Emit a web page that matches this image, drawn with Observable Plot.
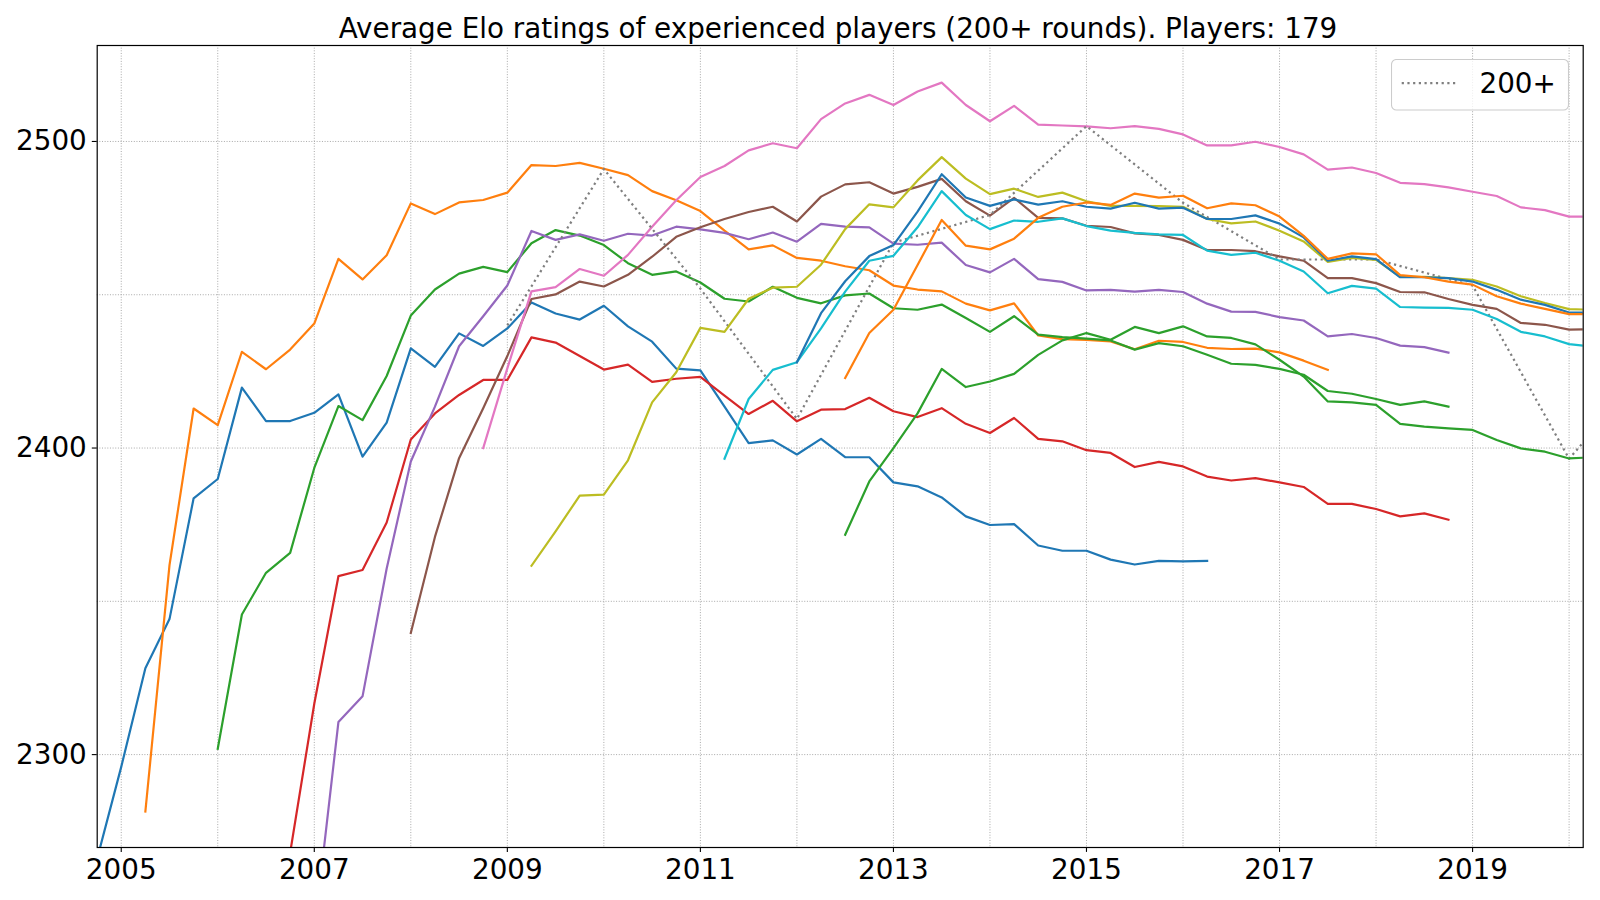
<!DOCTYPE html>
<html>
<head>
<meta charset="utf-8">
<script src="https://cdn.jsdelivr.net/npm/d3@7"></script>
<script src="https://cdn.jsdelivr.net/npm/@observablehq/plot@0.6"></script>
<style>
  body { margin: 0; background: #fff; font-family: "DejaVu Sans", sans-serif; }
  #wrap { position: relative; width: 1600px; height: 900px; overflow: hidden; }
  #chart { position: absolute; left: 0; top: 0; }
  #title { position: absolute; left: 95px; width: 1486px; top: 15px; text-align: center;
           font-size: 27.8px; line-height: 27.8px; white-space: nowrap; color: #000; }
  #legend { position: absolute; left: 1391px; top: 58.5px; }
</style>
</head>
<body>
<div id="wrap">
  <div id="chart"></div>
  <div id="title">Average Elo ratings of experienced players (200+ rounds). Players: 179</div>
  <svg id="legend" width="180" height="53"></svg>
</div>
<script>
// Quarterly average Elo per cohort; each array starts at the quarter given in `cohorts`.
const cohort2005 = [2266, 2296, 2328.2, 2344.2, 2383.6, 2389.9, 2419.7, 2408.8, 2408.8, 2411.5, 2417.5, 2397.2, 2408.3, 2432.5, 2426.5, 2437.4, 2433.3, 2439, 2447.5, 2443.9, 2441.9, 2446.4, 2439.7, 2434.7, 2425.9, 2425.3, 2413.5, 2401.6, 2402.5, 2397.9, 2403, 2397, 2397, 2388.8, 2387.5, 2383.9, 2377.7, 2374.9, 2375.2, 2368.2, 2366.5, 2366.5, 2363.6, 2362, 2363.2, 2363, 2363.2];
const cohort2005b = [2281.4, 2361.8, 2412.9, 2407.5, 2431.4, 2425.7, 2432.1, 2440.6, 2461.7, 2455, 2462.9, 2479.8, 2476.3, 2480.1, 2480.9, 2483.3, 2492.3, 2492, 2493, 2491.1, 2489, 2483.8, 2480.8, 2477.3, 2470.9, 2464.8, 2466.1, 2462, 2461.1, 2459.3, 2458, 2453, 2451.7, 2451.1, 2447.1, 2444.9, 2447.2, 2436.7, 2435.5, 2435.3, 2434.8, 2432.2, 2435, 2434.6, 2432.7, 2432.3, 2432.4, 2431.2, 2428.5, 2425.5];
const cohort2006 = [2301.9, 2345.7, 2359.3, 2365.8, 2393.5, 2413.7, 2409.1, 2423.5, 2443.2, 2451.7, 2456.9, 2459.1, 2457.4, 2466.8, 2471.1, 2469.3, 2466.2, 2460.3, 2456.5, 2457.6, 2454, 2448.7, 2447.8, 2452.6, 2449, 2447.2, 2449.8, 2450.4, 2445.6, 2445.1, 2446.8, 2442.4, 2437.9, 2443, 2437, 2436.2, 2435.7, 2435.1, 2432.1, 2434.2, 2433.2, 2430.4, 2427.5, 2427.1, 2425.8, 2423.9, 2418.6, 2417.7, 2416, 2414.1, 2415.2, 2413.5];
const cohort2006b = [2268, 2316.6, 2358.2, 2360.2, 2375.7, 2402.8, 2411.3, 2417.3, 2422.2, 2422.2, 2436.1, 2434.4, 2430, 2425.6, 2427.2, 2421.6, 2422.6, 2423.2, 2417.1, 2411.1, 2415.4, 2408.7, 2412.5, 2412.7, 2416.4, 2412, 2410.1, 2413, 2407.9, 2404.9, 2409.8, 2403, 2402.2, 2399.3, 2398.4, 2393.8, 2395.5, 2394, 2390.7, 2389.4, 2390.2, 2388.8, 2387.3, 2381.8, 2381.8, 2380.1, 2377.7, 2378.7, 2376.6];
const cohort2007 = [2242, 2310.6, 2319, 2360.7, 2395.6, 2413.5, 2433.2, 2443, 2453, 2470.8, 2467.9, 2469.7, 2467.6, 2469.9, 2469.3, 2472.2, 2471.3, 2470.2, 2468.1, 2470.3, 2467.3, 2473.1, 2472.2, 2472, 2466.7, 2466.3, 2467, 2459.7, 2457.3, 2461.7, 2455.1, 2454.2, 2451.4, 2451.6, 2451, 2451.6, 2450.9, 2447.1, 2444.5, 2444.4, 2442.7, 2441.6, 2436.4, 2437.2, 2435.9, 2433.4, 2432.9, 2431.1];
const cohort2008 = [2339.7, 2371, 2396.7, 2413, 2430, 2448.6, 2450.1, 2454.3, 2452.7, 2456.5, 2462.4, 2468.9, 2472, 2474.7, 2477, 2478.7, 2473.9, 2482, 2486, 2486.7, 2483, 2485.2, 2487.8, 2480.5, 2475.8, 2481.6, 2475.1, 2474.9, 2472.5, 2472.1, 2470, 2469.5, 2467.9, 2464.6, 2464.6, 2464.2, 2462.5, 2461.1, 2455.4, 2455.4, 2453.8, 2450.9, 2450.8, 2448.6, 2446.7, 2445.4, 2440.8, 2440.2, 2438.6, 2438.8];
const cohort2008b = [2400, 2426, 2451.1, 2452.5, 2458.4, 2456.2, 2463, 2472.2, 2480.8, 2488.4, 2492, 2497.1, 2499.4, 2497.8, 2507.3, 2512.4, 2515.2, 2511.9, 2516.3, 2519.2, 2511.9, 2506.6, 2511.6, 2505.5, 2505.2, 2504.9, 2504.3, 2505, 2504.1, 2502.3, 2498.7, 2498.7, 2499.9, 2498.2, 2495.8, 2490.8, 2491.5, 2489.7, 2486.5, 2486.1, 2485, 2483.6, 2482.2, 2478.5, 2477.6, 2475.5, 2475.5];
const cohort2009 = [2361.6, 2372.8, 2384.5, 2384.8, 2396, 2414.9, 2424.7, 2439.2, 2437.9, 2448.7, 2452.3, 2452.6, 2459.8, 2471.4, 2479.5, 2478.5, 2487.3, 2494.9, 2487.9, 2482.8, 2484.6, 2481.9, 2483.3, 2480.5, 2479, 2479, 2478.9, 2478.7, 2474.7, 2473.3, 2473.9, 2470.9, 2467.4, 2460.7, 2462, 2461.4, 2455.8, 2455.8, 2455.4, 2454.9, 2452.7, 2449.5, 2447.3, 2445.3, 2445.1];
const cohort2011 = [2396.5, 2416, 2425.5, 2428, 2439, 2451, 2461.1, 2462.7, 2472, 2483.8, 2476, 2471.4, 2474.2, 2473.8, 2474.9, 2472.4, 2470.9, 2470.2, 2469.7, 2469.5, 2464.4, 2463, 2463.7, 2461.1, 2457.6, 2450.5, 2452.9, 2452, 2446, 2445.8, 2445.7, 2445.1, 2442.1, 2437.9, 2436.4, 2433.9, 2433];
const cohort2012 = [2428, 2444, 2454.4, 2462.6, 2466.2, 2477.1, 2489.3, 2481.7, 2479, 2481.1, 2479.4, 2480.5, 2478.7, 2478.1, 2480, 2478.1, 2478.4, 2474.7, 2474.7, 2475.9, 2473.2, 2468.7, 2461.1, 2462.5, 2461.6, 2455.7, 2455.7, 2455.4, 2454.3, 2451.6, 2448.4, 2446.7, 2444.2, 2444.2];
const cohort2012b = [2422.8, 2437.5, 2445.1, 2459.7, 2474.4, 2466, 2464.8, 2468.3, 2475.1, 2478.7, 2480.1, 2479.3, 2483, 2481.7, 2482.3, 2478.2, 2479.8, 2479.2, 2475.5, 2469.2, 2461.7, 2463.5, 2463.2, 2456.4, 2455.7, 2454.3, 2453.3, 2449.5, 2447.1, 2445.4, 2443.7, 2443.7];
const cohort2012c = [2371.7, 2389.1, 2400, 2411.3, 2425.8, 2419.9, 2421.7, 2424.2, 2430.4, 2435.1, 2437.5, 2435.3, 2439.5, 2437.5, 2439.7, 2436.4, 2435.9, 2433.8, 2428.8, 2423.3, 2415.2, 2414.9, 2414.1, 2407.9, 2407, 2406.4, 2405.9, 2402.6, 2399.9, 2398.8, 2396.6, 2397];

// Yearly average of all players with 200+ rounds, starting 2009
const allExperienced = [2440, 2491, 2452, 2409.5, 2467, 2476, 2505, 2480, 2461.5, 2461.5, 2453, 2396.5, 2433];

// Axis ticks and grid positions
const xTickYears = [2005, 2007, 2009, 2011, 2013, 2015, 2017, 2019];
const xGridYears = d3.range(2005, 2021);
const yTickValues = [2300, 2400, 2500];
const yGridValues = [2300, 2350, 2400, 2450, 2500];

const tab10 = ["#1f77b4", "#ff7f0e", "#2ca02c", "#d62728", "#9467bd", "#8c564b", "#e377c2", "#7f7f7f", "#bcbd22", "#17becf"];

// Drawing order follows the colour cycle; the 200+ average takes the grey slot.
const cohorts = [
  {values: cohort2005,     start: 2004.75, step: 0.25},
  {values: cohort2005b,    start: 2005.25, step: 0.25},
  {values: cohort2006,     start: 2006,    step: 0.25},
  {values: cohort2006b,    start: 2006.75, step: 0.25},
  {values: cohort2007,     start: 2007,    step: 0.25},
  {values: cohort2008,     start: 2008,    step: 0.25},
  {values: cohort2008b,    start: 2008.75, step: 0.25},
  {values: allExperienced, start: 2009,    step: 1, dotted: true},
  {values: cohort2009,     start: 2009.25, step: 0.25},
  {values: cohort2011,     start: 2011.25, step: 0.25},
  {values: cohort2012,     start: 2012,    step: 0.25},
  {values: cohort2012b,    start: 2012.5,  step: 0.25},
  {values: cohort2012c,    start: 2012.5,  step: 0.25}
];

const lw = 2.2;
const lineMarks = cohorts.map((c, i) => {
  const rows = c.values.map((v, k) => ({year: c.start + k * c.step, elo: v}));
  return Plot.line(rows, {
    x: "year", y: "elo",
    stroke: tab10[i % 10],
    strokeWidth: lw,
    strokeDasharray: c.dotted ? "2.2,3.5" : null,
    strokeLinecap: c.dotted ? "butt" : "square",
    strokeLinejoin: "round",
    clip: true
  });
});

const gridStyle = {stroke: "#a8a8a8", strokeOpacity: 1, strokeWidth: 1, strokeDasharray: "1,1.65"};

const chart = Plot.plot({
  width: 1600,
  height: 900,
  marginTop: 45,
  marginBottom: 53,
  marginLeft: 96.7,
  marginRight: 17.3,
  style: {fontFamily: "DejaVu Sans", fontSize: "27.8px", background: "white", color: "black"},
  x: {domain: [2004.751, 2020.146]},
  y: {domain: [2269.7, 2531.3]},
  marks: [
    Plot.gridX(xGridYears, gridStyle),
    Plot.gridY(yGridValues, gridStyle),
    ...lineMarks,
    Plot.frame({stroke: "black", strokeWidth: 1.2}),
    Plot.axisX(xTickYears, {tickFormat: d => String(d), tickSize: 4.9, tickPadding: 6.7, fontSize: 27.8, label: null, strokeWidth: 1.1}),
    Plot.axisY(yTickValues, {tickFormat: d => String(d), tickSize: 4.9, tickPadding: 5.5, fontSize: 27.8, label: null, strokeWidth: 1.1})
  ]
});
document.getElementById("chart").appendChild(chart);

// Legend box in the upper-right corner of the plot area
const leg = d3.select("#legend");
leg.append("rect").attr("x", 0.5).attr("y", 0.5).attr("width", 177).attr("height", 50.5)
  .attr("rx", 5).attr("fill", "white").attr("fill-opacity", 0.8).attr("stroke", "#cccccc").attr("stroke-width", 1.1);
leg.append("line").attr("x1", 10.7).attr("x2", 66.7).attr("y1", 24.2).attr("y2", 24.2)
  .attr("stroke", tab10[7]).attr("stroke-width", lw).attr("stroke-dasharray", "2.2,3.5");
leg.append("text").attr("x", 88.5).attr("y", 33.8).attr("font-family", "DejaVu Sans")
  .attr("font-size", 27.8).attr("fill", "black").text("200+");
</script>
</body>
</html>
